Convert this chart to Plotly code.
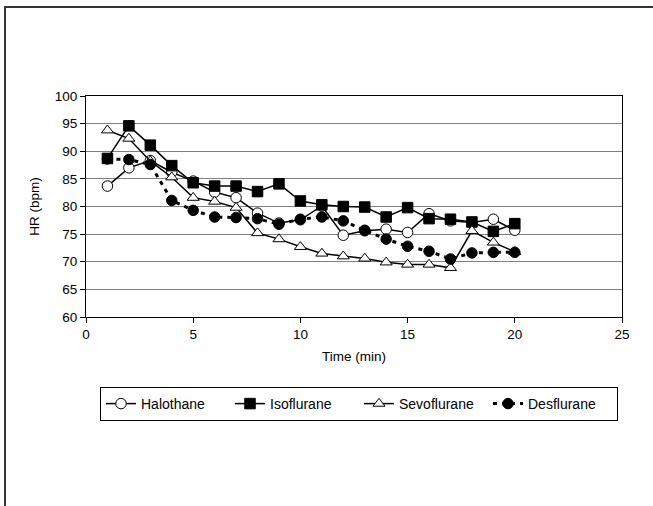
import plotly.graph_objects as go

time_min = list(range(1, 21))
halothane = [83.7, 87.0, 88.3, 86.2, 84.6, 82.6, 81.6, 78.8, 77.0, 77.6,
             80.1, 74.8, 75.6, 75.9, 75.3, 78.7, 77.4, 77.1, 77.7, 75.7]
isoflurane = [88.7, 94.6, 91.1, 87.4, 84.3, 83.7, 83.7, 82.7, 84.1, 81.0,
              80.3, 80.0, 79.9, 78.1, 79.8, 77.8, 77.7, 77.2, 75.5, 76.9]
sevoflurane = [93.8, 92.3, 88.2, 85.3, 81.6, 80.9, 79.8, 75.2, 74.1, 72.7,
               71.5, 71.0, 70.6, 69.9, 69.5, 69.5, 68.9, 75.6, 73.5, 71.8]
desflurane = [88.6, 88.5, 87.6, 81.1, 79.3, 78.1, 78.0, 77.8, 76.8, 77.7,
              78.1, 77.4, 75.7, 74.1, 72.8, 71.9, 70.5, 71.6, 71.7, 71.7]

FONT = "Arial, Liberation Sans, sans-serif"

fig = go.Figure()

def add(name, y, symbol, fill, dash, lw):
    fig.add_trace(go.Scatter(
        x=time_min, y=y, name=name, mode="lines+markers",
        line=dict(color="black", width=lw, dash=dash),
        marker=dict(symbol=symbol, size=10.5, color=fill,
                    line=dict(color="black", width=1)),
    ))

add("Halothane", halothane, "circle", "white", "solid", 1.5)
add("Isoflurane", isoflurane, "square", "black", "solid", 1.5)
add("Sevoflurane", sevoflurane, "triangle-up", "white", "solid", 1.5)
add("Desflurane", desflurane, "circle", "black", "4px,5px", 3)

L, R, T, B = 86, 31, 96, 189
W, H = 653, 506
pw, ph = W - L - R, H - T - B

def px2x(px):
    return (px - L) / pw

def py2y(py):
    return (H - B - py) / ph

fig.update_layout(
    width=W, height=H,
    margin=dict(l=L, r=R, t=T, b=B),
    paper_bgcolor="white", plot_bgcolor="white",
    font=dict(family=FONT, size=13.5, color="black"),
    showlegend=True,
    legend=dict(
        orientation="h", x=px2x(359), y=py2y(404),
        xanchor="center", yanchor="middle",
        bordercolor="black", borderwidth=1,
        font=dict(family=FONT, size=14, color="black"),
        entrywidth=84, entrywidthmode="pixels", tracegroupgap=0,
    ),
    xaxis=dict(
        range=[0, 25], dtick=5, tick0=0,
        showgrid=False, zeroline=False,
        showline=True, linecolor="black", linewidth=1, mirror=True,
        ticks="outside", ticklen=5, tickcolor="black",
        tickfont=dict(family=FONT, size=13.5, color="black"),
        title=dict(text="Time (min)", font=dict(family=FONT, size=13.5, color="black"), standoff=10),
    ),
    yaxis=dict(
        range=[60, 100], dtick=5, tick0=60,
        showgrid=True, gridcolor="#808080", gridwidth=1, zeroline=False,
        showline=True, linecolor="black", linewidth=1, mirror=True,
        ticks="outside", ticklen=5, tickcolor="black",
        tickfont=dict(family=FONT, size=13.5, color="black"),
        title=dict(text="HR (bpm)", font=dict(family=FONT, size=13.5, color="black"), standoff=12),
    ),
    shapes=[
        dict(type="path", xref="paper", yref="paper",
             path=f"M {px2x(5)},{py2y(520)} L {px2x(5)},{py2y(7)} L {px2x(670)},{py2y(7)}",
             line=dict(color="#333333", width=2)),
    ],
)

fig.write_html("out.html", config={"displayModeBar": False},
               post_script="document.body.style.margin='0';")
